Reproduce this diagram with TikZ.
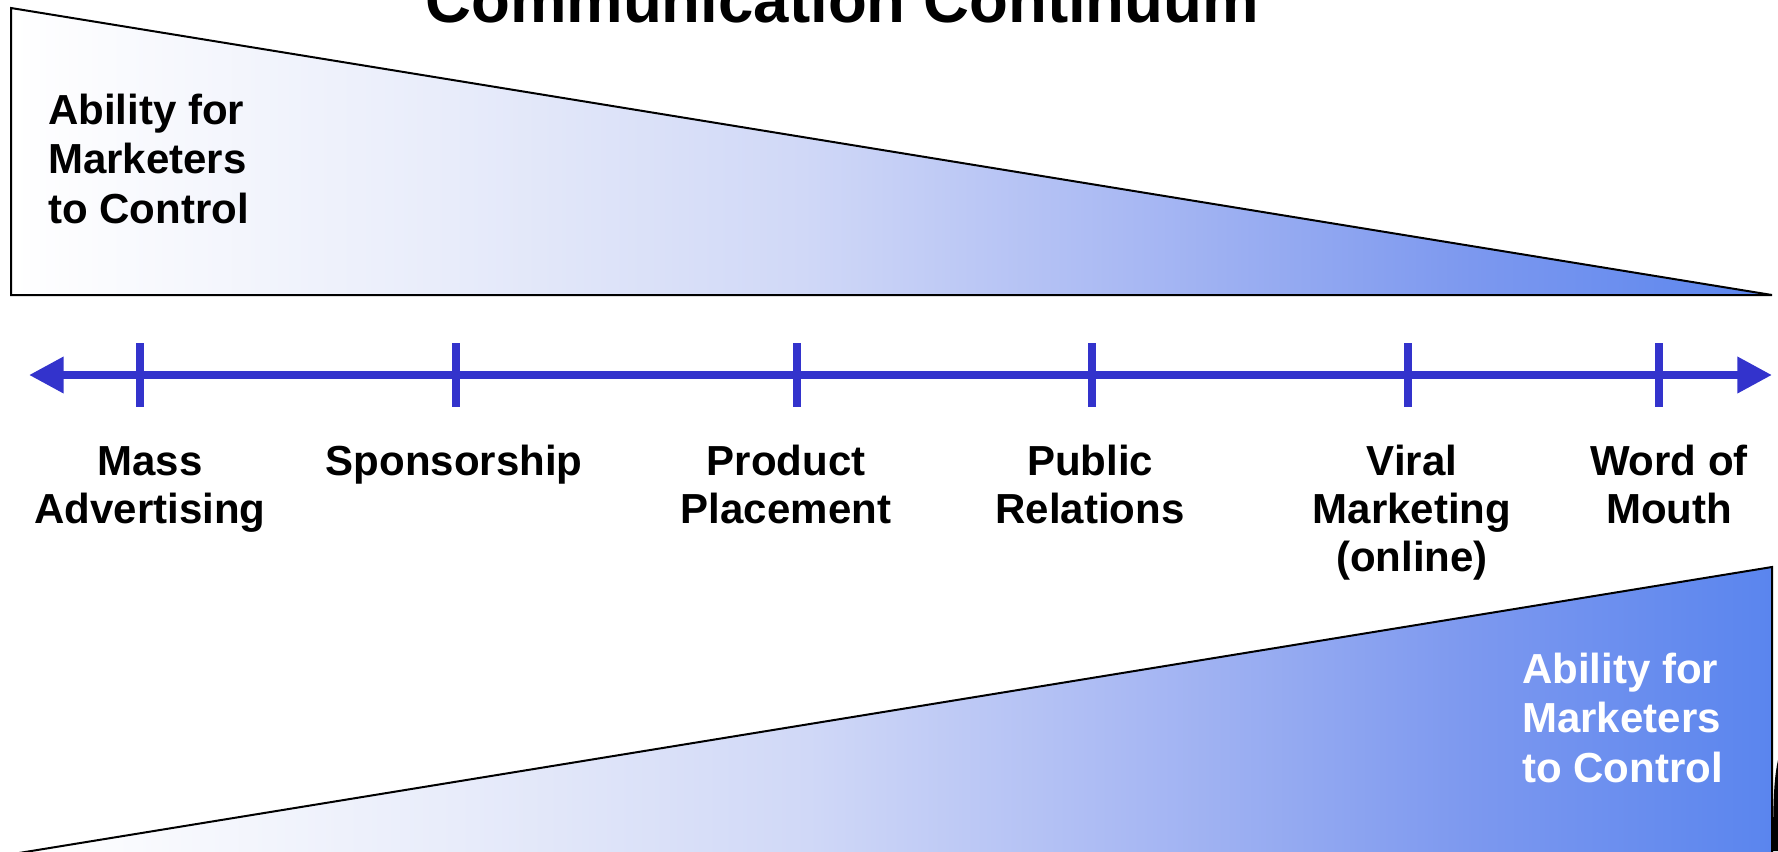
\documentclass[tikz,border=0pt]{standalone}
\usepackage{fontspec}
\setmainfont{Liberation Sans}
\usetikzlibrary{arrows.meta,calc}

\definecolor{axisblue}{RGB}{51,51,204}
\definecolor{fadeA}{RGB}{232,236,250}
\definecolor{fadeB}{RGB}{208,216,247}
\definecolor{fadeC}{RGB}{168,184,243}
\definecolor{fadeD}{RGB}{124,152,239}
\definecolor{fadeE}{RGB}{90,133,238}

% white-to-blue fade; the 25bp..75bp band spans the filled wedge
\pgfdeclarehorizontalshading{ctrlfade}{100bp}{%
  color(0bp)=(white); color(25bp)=(white); color(37.5bp)=(fadeA);
  color(47.5bp)=(fadeB); color(57bp)=(fadeC); color(66.5bp)=(fadeD);
  color(75bp)=(fadeE); color(100bp)=(fadeE)}

\tikzset{
  wedge/.style={draw=black, line width=1.5pt, line join=miter, shade, shading=ctrlfade},
  axisline/.style={draw=axisblue, line width=6pt,
    {Triangle[length=26pt,width=26pt]}-{Triangle[length=26pt,width=26pt]}},
  tickmark/.style={draw=axisblue, line width=6pt},
  lbl/.style={anchor=base, inner sep=0pt, font=\fontsize{31.5}{36}\selectfont\bfseries},
  sidelbl/.style={anchor=base west, inner sep=0pt, font=\fontsize{31.5}{37.3}\selectfont\bfseries},
  titlelbl/.style={anchor=base west, inner sep=0pt, font=\fontsize{47.7}{50}\selectfont\bfseries}
}

\newcommand{\ctrstack}[1]{\begin{tabular}[t]{@{}c@{}}#1\end{tabular}}
\newcommand{\leftstack}[1]{\begin{tabular}[t]{@{}l@{}}#1\end{tabular}}

\begin{document}
\begin{tikzpicture}[x=0.75pt, y=-0.75pt]
  \useasboundingbox (0,0) rectangle (1778,851);
  \clip (0,0) rectangle (1778,851);

  % title
  \node[titlelbl] (title) at (425,22) {Communication Continuum};

  % upper wedge: control shrinking to the right
  \path[wedge] (11,8) -- (11,295) -- (1772,295) -- cycle;
  \node[sidelbl] (topctrl) at (48,124) {\leftstack{Ability for\\Marketers\\to Control}};

  % continuum axis
  \coordinate (axL) at (29,375);
  \coordinate (axR) at (1772,375);
  \draw[axisline] (axL) -- (axR);

  \foreach \n/\x in {k1/140, k2/456, k3/797, k4/1092, k5/1408, k6/1659} {
    \coordinate (\n) at (\x,375);
    \draw[tickmark] ($(\n)+(0,-32)$) -- ($(\n)+(0,32)$);
  }

  % channel labels
  \node[lbl] (mass)    at (150,475)  {\ctrstack{Mass\\Advertising}};
  \node[lbl] (spons)   at (454,475)  {\ctrstack{Sponsorship}};
  \node[lbl] (product) at (786,475)  {\ctrstack{Product\\Placement}};
  \node[lbl] (public)  at (1090,475) {\ctrstack{Public\\Relations}};
  \node[lbl] (viral)   at (1412,475) {\ctrstack{Viral\\Marketing\\(online)}};
  \node[lbl] (word)    at (1669,475) {\ctrstack{Word of\\Mouth}};

  % lower wedge: control growing to the right
  \path[wedge] (19,853) -- (1772,567) -- (1772,853) -- cycle;
  \node[sidelbl, text=white] (botctrl) at (1522,683) {\leftstack{Ability for\\Marketers\\to Control}};

  % dark edge at the lower right border
  \fill[black] (1778,760) .. controls (1774,778) and (1773,800) .. (1773,851) -- (1778,851) -- cycle;
\end{tikzpicture}
\end{document}
